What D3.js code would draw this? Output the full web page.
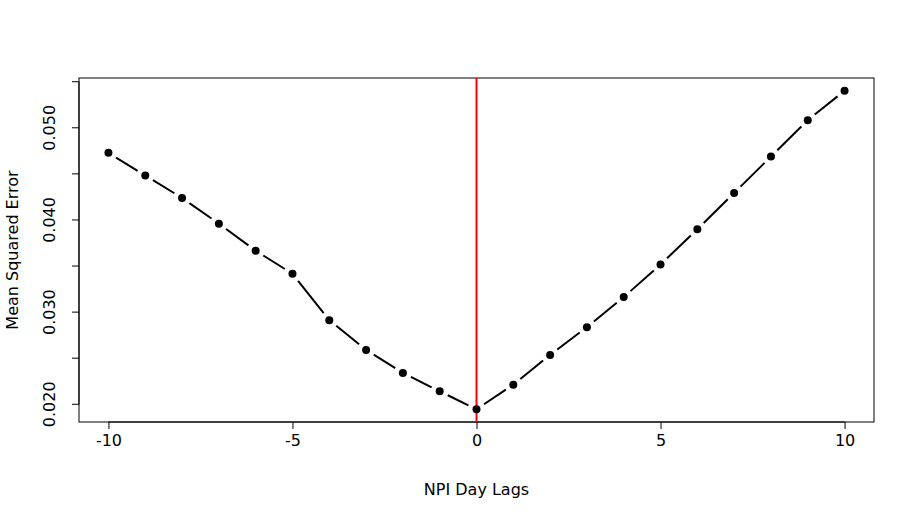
<!DOCTYPE html>
<html><head><meta charset="utf-8">
<script src="https://cdn.jsdelivr.net/npm/d3@7"></script>
<style>body{margin:0;background:#fff}svg{display:block}text{font-family:"DejaVu Sans",sans-serif;}</style>
</head><body><svg id="c" width="915" height="520"></svg>
<script>
const lags = [-10,-9,-8,-7,-6,-5,-4,-3,-2,-1,0,1,2,3,4,5,6,7,8,9,10];
const mse = [0.04728,0.04482,0.04239,0.0396,0.03666,0.03416,0.02913,0.0259,0.0234,0.02141,0.01946,
             0.02213,0.02536,0.02837,0.03163,0.03517,0.03898,0.04293,0.04688,0.05083,0.05402];
const xTicks = [-10,-5,0,5,10];
const yTicks = [0.020,0.025,0.030,0.035,0.040,0.045,0.050,0.055];
const yLabelTicks = [0.020,0.030,0.040,0.050];
const vLine = 0;
const xTitle = "NPI Day Lags", yTitle = "Mean Squared Error";

const svg = d3.select("#c");
const L=79, R=874, T=78, B=422;
const x = d3.scaleLinear().domain([-10.8,10.8]).range([L,R]);
const yMin=d3.min(mse), yMax=d3.max(mse), pad=(yMax-yMin)*0.04;
const y = d3.scaleLinear().domain([yMin-pad,yMax+pad]).range([B,T]);
const fs = 16;

// box
svg.append("rect").attr("x",L).attr("y",T).attr("width",R-L).attr("height",B-T)
  .attr("fill","none").attr("stroke","#000").attr("stroke-width",1);

// x axis
const xa = svg.append("g").attr("transform",`translate(0,${B})`)
  .call(d3.axisBottom(x).tickValues(xTicks).tickSize(7).tickPadding(6).tickFormat(d => String(d)));
xa.select(".domain").attr("d",`M${x(xTicks[0])},0H${x(xTicks[xTicks.length-1])}`).attr("stroke","#000");
xa.selectAll("text").attr("font-size",fs).attr("fill","#000").attr("font-family","DejaVu Sans");
xa.selectAll("line").attr("stroke","#000");

// y axis
const ya = svg.append("g").attr("transform",`translate(${L},0)`)
  .call(d3.axisLeft(y).tickValues(yTicks).tickSize(7).tickPadding(0)
    .tickFormat(d => yLabelTicks.some(v=>Math.abs(v-d)<1e-9) ? d3.format(".3f")(d) : ""));
ya.select(".domain").attr("d",`M0,${y(yTicks[0])}V${y(yTicks[yTicks.length-1])}`).attr("stroke","#000");
ya.selectAll("line").attr("stroke","#000");
ya.selectAll("text").attr("font-size",fs).attr("fill","#000").attr("font-family","DejaVu Sans")
  .attr("text-anchor","middle").attr("dy",null)
  .attr("transform",d=>`translate(-24,${y(d)}) rotate(-90)`).attr("x",0).attr("y",0)
  .attr("dominant-baseline","auto");
ya.selectAll(".tick").attr("transform",null);
ya.selectAll(".tick line").attr("transform",d=>`translate(0,${y(d)})`);

// titles
svg.append("text").attr("x",(L+R)/2).attr("y",495).attr("text-anchor","middle")
  .attr("font-size",fs).text(xTitle);
svg.append("text").attr("transform",`translate(18,${(T+B)/2}) rotate(-90)`).attr("text-anchor","middle")
  .attr("font-size",fs).text(yTitle);

// line with gaps (type "b")
const pts = lags.map((d,i)=>[x(d),y(mse[i])]);
const gap = 9;
for(let i=0;i<pts.length-1;i++){
  const [x0,y0]=pts[i],[x1,y1]=pts[i+1];
  const dx=x1-x0, dy=y1-y0, len=Math.hypot(dx,dy);
  if(len<=2*gap) continue;
  const ux=dx/len, uy=dy/len;
  svg.append("line").attr("x1",x0+ux*gap).attr("y1",y0+uy*gap)
    .attr("x2",x1-ux*gap).attr("y2",y1-uy*gap)
    .attr("stroke","#000").attr("stroke-width",2);
}

// red vertical line
svg.append("line").attr("x1",x(vLine)).attr("x2",x(vLine)).attr("y1",T).attr("y2",B)
  .attr("stroke","#ff0000").attr("stroke-width",2);

// points
svg.selectAll("circle.p").data(lags).enter().append("circle")
  .attr("cx",d=>x(d)).attr("cy",(d,i)=>y(mse[i])).attr("r",4).attr("fill","#000");
</script></body></html>
